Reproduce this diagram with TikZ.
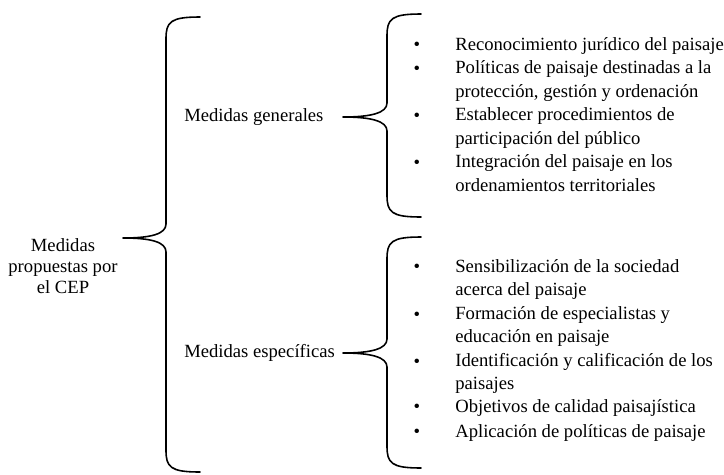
\documentclass[tikz,border=0pt]{standalone}
\usepackage{fontspec}
\setmainfont{Liberation Serif}
\usetikzlibrary{calc}
\tikzset{
  brace/.style={draw=black, line width=0.9pt, line cap=round, line join=round},
  lab/.style={font=\fontsize{10.6}{13.3}\selectfont, inner sep=0pt},
  head/.style={lab, anchor=base west},
  item/.style={lab, anchor=base west, align=left},
  iteml/.style={item, font=\fontsize{10.6}{12.8}\selectfont},
  dot/.style={lab, anchor=base},
  root/.style={font=\fontsize{10.6}{11.9}\selectfont, inner sep=0pt, align=center, anchor=base},
}
% left curly brace: tip, upper end, lower end
\newcommand{\curlybrace}[3]{%
  \draw[brace] (#2) .. controls ($(#2)+(-30,0)$) and ($(#2)+(-34,5)$) .. ($(#2)+(-34,22)$)
    -- ($(#1 -| #2)+(-34,-14)$) .. controls ($(#1 -| #2)+(-34,-4)$) and ($(#1)+(28,0)$) .. (#1)
    .. controls ($(#1)+(28,0)$) and ($(#1 -| #2)+(-34,4)$) .. ($(#1 -| #2)+(-34,14)$)
    -- ($(#3)+(-34,-22)$) .. controls ($(#3)+(-34,-5)$) and ($(#3)+(-30,0)$) .. (#3);
}

\begin{document}
\begin{tikzpicture}[x=0.02cm, y=-0.02cm]
  \useasboundingbox (0,0) rectangle (724,474);
  % main levels (multi-line nodes sit on their last line)
  \node[root] (cep) at (63,293) {Medidas\\propuestas por\\el CEP};
  \node[head] (gen) at (184,121) {Medidas generales};
  \node[head] (esp) at (184,357) {Medidas específicas};
  % braces
  \coordinate (cep-tip) at (123,238);
  \coordinate (cep-top) at (200,17);
  \coordinate (cep-bot) at (200,472);
  \coordinate (gen-tip) at (343,117);
  \coordinate (gen-top) at (421,14);
  \coordinate (gen-bot) at (421,217);
  \coordinate (esp-tip) at (343,353);
  \coordinate (esp-top) at (421,237);
  \coordinate (esp-bot) at (421,468);
  \curlybrace{cep-tip}{cep-top}{cep-bot}
  \curlybrace{gen-tip}{gen-top}{gen-bot}
  \curlybrace{esp-tip}{esp-top}{esp-bot}
  % general measures
  \node[item] (g1) at (455,50) {Reconocimiento jurídico del paisaje};
  \node[item] (g2) at (455,97) {Políticas de paisaje destinadas a la\\protección, gestión y ordenación};
  \node[item] (g3) at (455,144) {Establecer procedimientos de\\participación del público};
  \node[item] (g4) at (455,191) {Integración del paisaje en los\\ordenamientos territoriales};
  % specific measures
  \node[iteml] (e1) at (455,295) {Sensibilización de la sociedad\\acerca del paisaje};
  \node[iteml] (e2) at (455,342) {Formación de especialistas y\\educación en paisaje};
  \node[iteml] (e3) at (455,389) {Identificación y calificación de los\\paisajes};
  \node[iteml] (e4) at (455,412) {Objetivos de calidad paisajística};
  \node[iteml] (e5) at (455,437) {Aplicación de políticas de paisaje};
  \foreach \n/\y in {g1/50,g2/74,g3/121,g4/168,e1/272,e2/320,e3/367,e4/412,e5/437}
    \node[dot] (b-\n) at (417,\y) {\textbullet};
\end{tikzpicture}
\end{document}
